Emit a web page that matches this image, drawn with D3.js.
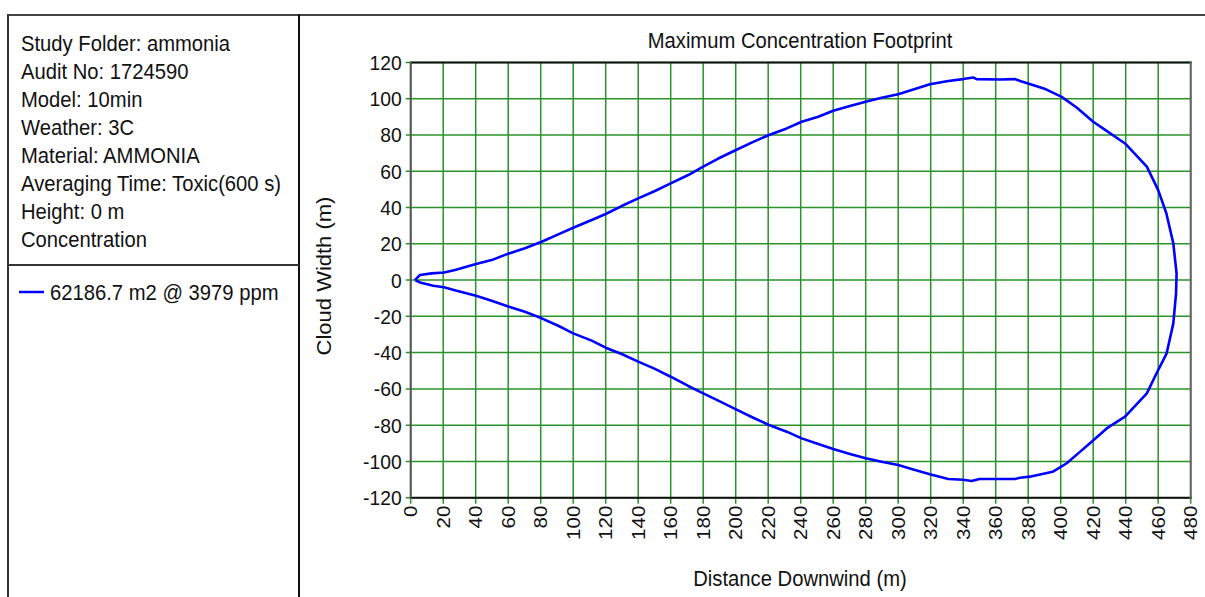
<!DOCTYPE html>
<html>
<head>
<meta charset="utf-8">
<script src="https://cdn.jsdelivr.net/npm/d3@7"></script>
<style>
  html, body { margin: 0; padding: 0; background: #fff; }
  svg { display: block; }
  text { font-family: "Liberation Sans", Arial, sans-serif; fill: #111; }
</style>
</head>
<body>
<svg id="chart" width="1205" height="597"></svg>
<script>
// Report header lines
const infoLines = [
  "Study Folder: ammonia",
  "Audit No: 1724590",
  "Model: 10min",
  "Weather: 3C",
  "Material: AMMONIA",
  "Averaging Time: Toxic(600 s)",
  "Height: 0 m",
  "Concentration"
];
const seriesLabel = "62186.7 m2 @ 3979 ppm";
const chartTitle = "Maximum Concentration Footprint";
const xTitle = "Distance Downwind (m)";
const yTitle = "Cloud Width (m)";

// Axis ticks
const xTickValues = [0, 20, 40, 60, 80, 100, 120, 140, 160, 180, 200, 220, 240,
                     260, 280, 300, 320, 340, 360, 380, 400, 420, 440, 460, 480];
const yTickValues = [120, 100, 80, 60, 40, 20, 0, -20, -40, -60, -80, -100, -120];

// Footprint outline: downwind distance (m) and crosswind width (m),
// traced from the source along the upper edge, round the far end, and back.
const downwind = [
  2.6, 5.7, 12.9, 20.5, 27.3, 40.2, 49.8, 60.5, 70.3, 80.6, 90.8, 100, 111.4, 120,
  129.8, 140, 150.3, 160, 170.8, 180, 189.3, 200.2, 210.8, 220.5, 231.4, 240.6,
  250.8, 260, 270.3, 280, 289.8, 300, 309.3, 319.5, 330.8, 340, 346.2, 348.3,
  362.6, 371.9, 375, 380, 390, 400.6, 410, 420, 426, 439.6, 453, 460, 465, 469.3,
  471.3, 471, 469.3, 465.2, 459, 453, 439.6, 428.3, 418, 412, 403.7, 395, 381,
  375, 371.9, 350, 345.2, 340, 330.8, 319.5, 309.3, 300, 289.8, 280, 270.3, 260,
  250.8, 240.6, 231.4, 220.5, 210.8, 200.2, 189.3, 180, 170.8, 160, 150.3, 140,
  129.8, 120, 111.4, 100, 90.8, 80.6, 70.3, 60.5, 49.8, 40.2, 28.3, 20.5, 13.9,
  5.7, 2.6
];
const crosswind = [
  0, 2.8, 3.7, 4.2, 5.5, 8.8, 11, 14.7, 17.5, 21.1, 25.2, 28.8, 33.1, 36.4,
  40.8, 45, 49.1, 53.3, 57.9, 62.5, 67, 71.7, 76.2, 80, 83.6, 87.3,
  90, 93.3, 95.9, 98.3, 100.5, 102.4, 105.1, 108, 109.7, 110.8, 111.7, 110.8,
  110.6, 110.8, 109.7, 108.4, 105.5, 101, 95, 87.3, 83.6, 75.3, 62.5, 49.6, 36.8, 20.2,
  3.7, -7.2, -23.9, -40.4, -51.4, -62.5, -75.3, -81.8, -90, -94.6, -101, -105.7, -108.4,
  -109, -109.7, -109.7, -110.8, -110.1, -109.7, -107.1, -104.4, -102, -100.2, -98.3, -95.9, -93.2,
  -90.4, -87.3, -83.6, -79.9, -75.9, -71.3, -66.5, -62.5, -58.4, -53.3, -49, -45,
  -40.8, -37.3, -33.4, -29.4, -25.2, -21.1, -17.5, -14.7, -11.4, -8.6, -5.9, -4, -3.1,
  -1.3, 0
];

const svg = d3.select("#chart");
const FONT = 22;
const SQUEEZE = 0.92;   // narrow glyph width, as the report font renders

// ---- Frame of the report ----
const frame = svg.append("g").attr("fill", "none");
frame.append("line").attr("x1", 8).attr("x2", 1205).attr("y1", 15).attr("y2", 15)
  .attr("stroke", "#444").attr("stroke-width", 2);
frame.append("line").attr("x1", 8).attr("x2", 8).attr("y1", 14).attr("y2", 597)
  .attr("stroke", "#333").attr("stroke-width", 2);
frame.append("line").attr("x1", 299).attr("x2", 299).attr("y1", 14).attr("y2", 597)
  .attr("stroke", "#111").attr("stroke-width", 2);
frame.append("line").attr("x1", 8).attr("x2", 299).attr("y1", 265).attr("y2", 265)
  .attr("stroke", "#333").attr("stroke-width", 2);

function squeezedText(g, x, y, str, anchor, size) {
  return g.append("text")
    .attr("transform", `translate(${x},${y}) scale(${SQUEEZE},1)`)
    .attr("text-anchor", anchor || "start")
    .attr("font-size", size || FONT)
    .text(str);
}

// ---- Info panel ----
const info = svg.append("g");
infoLines.forEach((t, i) => squeezedText(info, 21, 51 + i * 28, t));

// ---- Legend ----
const legend = svg.append("g");
legend.append("line").attr("x1", 19).attr("x2", 44).attr("y1", 292).attr("y2", 292)
  .attr("stroke", "#0000ff").attr("stroke-width", 2.5);
squeezedText(legend, 50, 300, seriesLabel);

// ---- Plot ----
const plot = { left: 410.7, right: 1190.7, top: 62.4, bottom: 497.7 };
const x = d3.scaleLinear().domain([0, 480]).range([plot.left, plot.right]);
const y = d3.scaleLinear().domain([-120, 120]).range([plot.bottom, plot.top]);

const GRID = "#2a922a";

// Grid lines
const grid = svg.append("g");
grid.selectAll("line.v").data(xTickValues).join("line")
  .attr("x1", d => x(d)).attr("x2", d => x(d))
  .attr("y1", plot.top).attr("y2", plot.bottom + 6)
  .attr("stroke", GRID).attr("stroke-width", 1.5);
grid.selectAll("line.h").data(yTickValues).join("line")
  .attr("x1", plot.left - 5).attr("x2", plot.right)
  .attr("y1", d => y(d)).attr("y2", d => y(d))
  .attr("stroke", GRID).attr("stroke-width", 1.5);

// Plot border
const border = svg.append("g").attr("stroke-width", 2);
border.append("line").attr("x1", plot.left).attr("x2", plot.right + 1)
  .attr("y1", plot.top).attr("y2", plot.top).attr("stroke", "#111");
border.append("line").attr("x1", plot.left).attr("x2", plot.right + 1)
  .attr("y1", plot.bottom).attr("y2", plot.bottom).attr("stroke", "#111");
border.append("line").attr("x1", plot.left).attr("x2", plot.left)
  .attr("y1", plot.top - 1).attr("y2", plot.bottom + 1).attr("stroke", "#555");
border.append("line").attr("x1", plot.right).attr("x2", plot.right)
  .attr("y1", plot.top - 1).attr("y2", plot.bottom + 1).attr("stroke", "#666");

// Y tick labels
const yLab = svg.append("g");
yTickValues.forEach(v => {
  squeezedText(yLab, plot.left - 9, y(v) + 7.5, String(v), "end", 21);
});

// X tick labels, rotated
const xLab = svg.append("g");
xTickValues.forEach(v => {
  xLab.append("text")
    .attr("transform", `translate(${x(v) + 6.5},${plot.bottom + 8}) scale(0.88,1) rotate(-90)`)
    .attr("text-anchor", "end")
    .attr("font-size", 20.5)
    .text(String(v));
});

// Titles
squeezedText(svg, 800, 48, chartTitle, "middle");
squeezedText(svg, 800, 586, xTitle, "middle");
svg.append("text")
  .attr("transform", `translate(331,276) scale(${SQUEEZE},1) rotate(-90)`)
  .attr("text-anchor", "middle")
  .attr("font-size", FONT)
  .text(yTitle);

// Footprint outline
const pts = downwind.map((d, i) => [d, crosswind[i]]);
svg.append("path")
  .datum(pts)
  .attr("fill", "none")
  .attr("stroke", "#0000ff")
  .attr("stroke-width", 2.6)
  .attr("stroke-linejoin", "round")
  .attr("d", d3.line().x(d => x(d[0])).y(d => y(d[1])));
</script>
</body>
</html>
